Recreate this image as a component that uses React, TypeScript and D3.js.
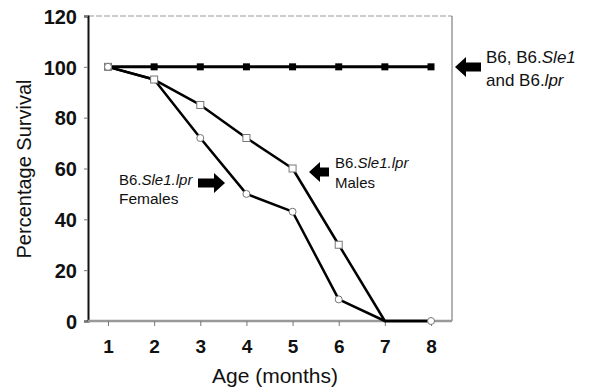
import React, { useEffect, useRef } from 'react';
import * as d3 from 'd3';

const months = [1, 2, 3, 4, 5, 6, 7, 8];
const controls = [100, 100, 100, 100, 100, 100, 100, 100];
const males = [100, 95, 85, 72, 60, 30, 0, 0];
const females = [100, 95, 72, 50, 43, 8.5, 0, 0];
const yTicks = [0, 20, 40, 60, 80, 100, 120];

const FONT = '"Liberation Sans", Arial, sans-serif';

export default function App() {
  const svgRef = useRef<SVGSVGElement>(null);

  useEffect(() => {
    const w = 592;
    const h = 390;
    const svg = d3.select(svgRef.current).attr('width', w).attr('height', h);
    svg.selectAll('*').remove();

    const left = 88;
    const right = 452;
    const top = 16;
    const bottom = 321;

    const x = d3.scaleLinear().domain([1, 8]).range([108, 431]);
    const y = d3.scaleLinear().domain([0, 120]).range([bottom, top]);

    // frame
    svg.append('line').attr('x1', left).attr('x2', right).attr('y1', top).attr('y2', top)
      .attr('stroke', '#999').attr('stroke-dasharray', '6,2');
    svg.append('line').attr('x1', right).attr('x2', right).attr('y1', top).attr('y2', bottom)
      .attr('stroke', '#666').attr('stroke-width', 1);

    // y axis
    const yAxis = d3.axisLeft(y).tickValues(yTicks).tickSize(4).tickPadding(7);
    const gy = svg.append('g').attr('transform', `translate(${left},0)`).call(yAxis);
    gy.select('.domain').attr('stroke', '#111').attr('stroke-width', 2);
    gy.selectAll('.tick line').attr('stroke', '#777');
    gy.selectAll('.tick text')
      .attr('font-family', FONT).attr('font-weight', 'bold').attr('font-size', 20).attr('fill', '#111')
      .attr('dy', '0.36em');

    // x axis
    const xAxis = d3.axisBottom(x).tickValues(months).tickSize(5).tickPadding(14).tickFormat(d3.format('d'));
    const gx = svg.append('g').attr('transform', `translate(0,${bottom})`).call(xAxis);
    gx.select('.domain').attr('d', `M${left},0H${right}`).attr('stroke', '#999').attr('stroke-width', 2.5);
    gx.selectAll('.tick line').attr('stroke', '#777');
    gx.selectAll('.tick text')
      .attr('font-family', FONT).attr('font-weight', 'bold').attr('font-size', 19).attr('fill', '#111');

    // axis titles
    svg.append('text').attr('x', 275).attr('y', 383).attr('text-anchor', 'middle')
      .attr('font-family', FONT).attr('font-size', 21).attr('fill', '#111').text('Age (months)');
    svg.append('text').attr('transform', `translate(31,169) rotate(-90)`)
      .attr('text-anchor', 'middle')
      .attr('font-family', FONT).attr('font-size', 20).attr('fill', '#111').text('Percentage Survival');

    const line = d3.line<number>().x((d, i) => x(months[i])).y((d) => y(d));

    const drawSeries = (vals: number[], width: number) => {
      svg.append('path').datum(vals).attr('d', line).attr('fill', 'none')
        .attr('stroke', '#000').attr('stroke-width', width).attr('stroke-linejoin', 'round');
    };
    drawSeries(females, 2.5);
    drawSeries(males, 2.5);
    drawSeries(controls, 3);

    // markers
    const s = 7;
    svg.append('g').selectAll('rect').data(controls.slice(1)).join('rect')
      .attr('x', (d, i) => x(months[i + 1]) - s / 2).attr('y', (d) => y(d) - s / 2)
      .attr('width', s).attr('height', s).attr('fill', '#000');
    svg.append('g').selectAll('rect').data(males.slice(0, 6)).join('rect')
      .attr('x', (d, i) => x(months[i]) - s / 2).attr('y', (d) => y(d) - s / 2)
      .attr('width', s).attr('height', s).attr('fill', '#fff').attr('stroke', '#777').attr('stroke-width', 1);
    const femalePts = females.map((v, i) => ({ m: months[i], v })).filter((d, i) => i !== 1 && i !== 6);
    svg.append('g').selectAll('circle').data(femalePts).join('circle')
      .attr('cx', (d) => x(d.m))
      .attr('cy', (d) => y(d.v)).attr('r', 3.5)
      .attr('fill', '#fff').attr('stroke', '#777').attr('stroke-width', 1);

    // block arrows
    const arrow = (tipX: number, cy: number, len: number, dir: 1 | -1) => {
      const head = 11;
      const hh = 10;
      const sh = 4.5;
      const bx = tipX + dir * head;
      const ex = tipX + dir * len;
      const p = d3.path();
      p.moveTo(tipX, cy);
      p.lineTo(bx, cy - hh);
      p.lineTo(bx, cy - sh);
      p.lineTo(ex, cy - sh);
      p.lineTo(ex, cy + sh);
      p.lineTo(bx, cy + sh);
      p.lineTo(bx, cy + hh);
      p.closePath();
      svg.append('path').attr('d', p.toString()).attr('fill', '#000');
    };
    arrow(455, 67, 26, 1);
    arrow(309, 172, 20, 1);
    arrow(225, 183, 27, -1);

    const label = (lx: number, ly: number, parts: [string, boolean][], size: number) => {
      const t = svg.append('text').attr('x', lx).attr('y', ly)
        .attr('font-family', FONT).attr('font-size', size).attr('fill', '#111');
      parts.forEach(([str, it]) => {
        t.append('tspan').attr('font-style', it ? 'italic' : 'normal').text(str);
      });
    };
    label(486, 63, [['B6, B6.', false], ['Sle1', true]], 17);
    label(486, 86, [['and B6.', false], ['lpr', true]], 17);
    label(335, 168, [['B6.', false], ['Sle1.lpr', true]], 15);
    label(335, 188, [['Males', false]], 15);
    label(119, 185, [['B6.', false], ['Sle1.lpr', true]], 15);
    label(119, 204, [['Females', false]], 15.5);
  }, []);

  return <svg ref={svgRef} style={{ position: 'absolute', left: 0, top: 0 }}></svg>;
}
